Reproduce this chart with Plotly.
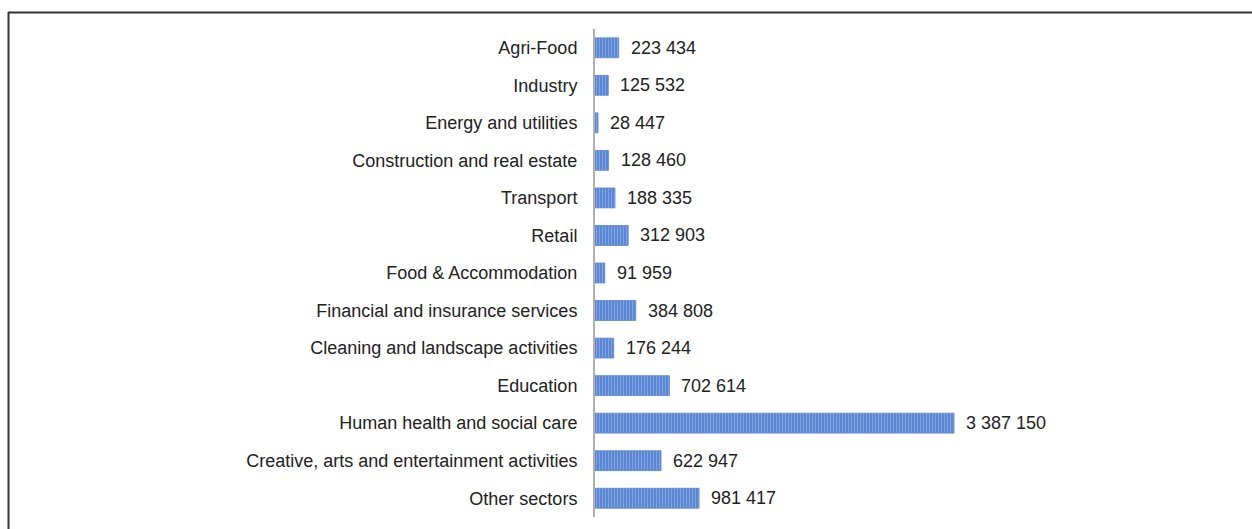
import plotly.graph_objects as go

categories = [
    "Agri-Food",
    "Industry",
    "Energy and utilities",
    "Construction and real estate",
    "Transport",
    "Retail",
    "Food & Accommodation",
    "Financial and insurance services",
    "Cleaning and landscape activities",
    "Education",
    "Human health and social care",
    "Creative, arts and entertainment activities",
    "Other sectors",
]
values = [223434, 125532, 28447, 128460, 188335, 312903, 91959,
          384808, 176244, 702614, 3387150, 622947, 981417]
value_labels = ["223 434", "125 532", "28 447", "128 460", "188 335", "312 903",
                "91 959", "384 808", "176 244", "702 614", "3 387 150",
                "622 947", "981 417"]

font_family = "Liberation Sans, Arial, sans-serif"
fsize = 18

fig = go.Figure(go.Bar(
    x=values,
    y=categories,
    orientation="h",
    marker=dict(
        color="#5f8ad6",
        line=dict(color="#5a84cf", width=0.8),
        pattern=dict(shape="|", bgcolor="#5a86d4", fgcolor="#a9c3ee",
                     size=3, solidity=0.35, fillmode="overlay"),
    ),
    width=0.53,
    hoverinfo="skip",
))

for v, lab, cat in zip(values, value_labels, categories):
    fig.add_annotation(x=v, y=cat, text=lab, showarrow=False,
                       xanchor="left", xshift=10,
                       font=dict(family=font_family, size=fsize, color="#222222"))

L, R, T, B = 595, 22, 29, 12
W, H = 1252, 529
pw = W - L - R
ph = H - T - B

def px_x(x):
    return (x - L) / pw

def px_y(y):
    return (H - B - y) / ph

fig.add_shape(type="line", xref="paper", yref="paper",
              x0=px_x(8), x1=px_x(1260), y0=px_y(12.5), y1=px_y(12.5),
              line=dict(color="#333333", width=2))
fig.add_shape(type="line", xref="paper", yref="paper",
              x0=px_x(8.5), x1=px_x(8.5), y0=px_y(12), y1=px_y(540),
              line=dict(color="#333333", width=2))

fig.update_layout(
    width=W, height=H,
    margin=dict(l=L, r=R, t=T, b=B),
    paper_bgcolor="white", plot_bgcolor="white",
    showlegend=False,
    font=dict(family=font_family, size=fsize, color="#222222"),
    xaxis=dict(range=[0, 5.99e6], visible=False, showgrid=False, zeroline=False),
    yaxis=dict(autorange="reversed", showgrid=False, zeroline=False,
               showline=True, linecolor="#b0b0b0", linewidth=2,
               ticks="", ticklabelstandoff=12,
               tickfont=dict(family=font_family, size=fsize, color="#222222")),
)

fig.write_html("out.html")
